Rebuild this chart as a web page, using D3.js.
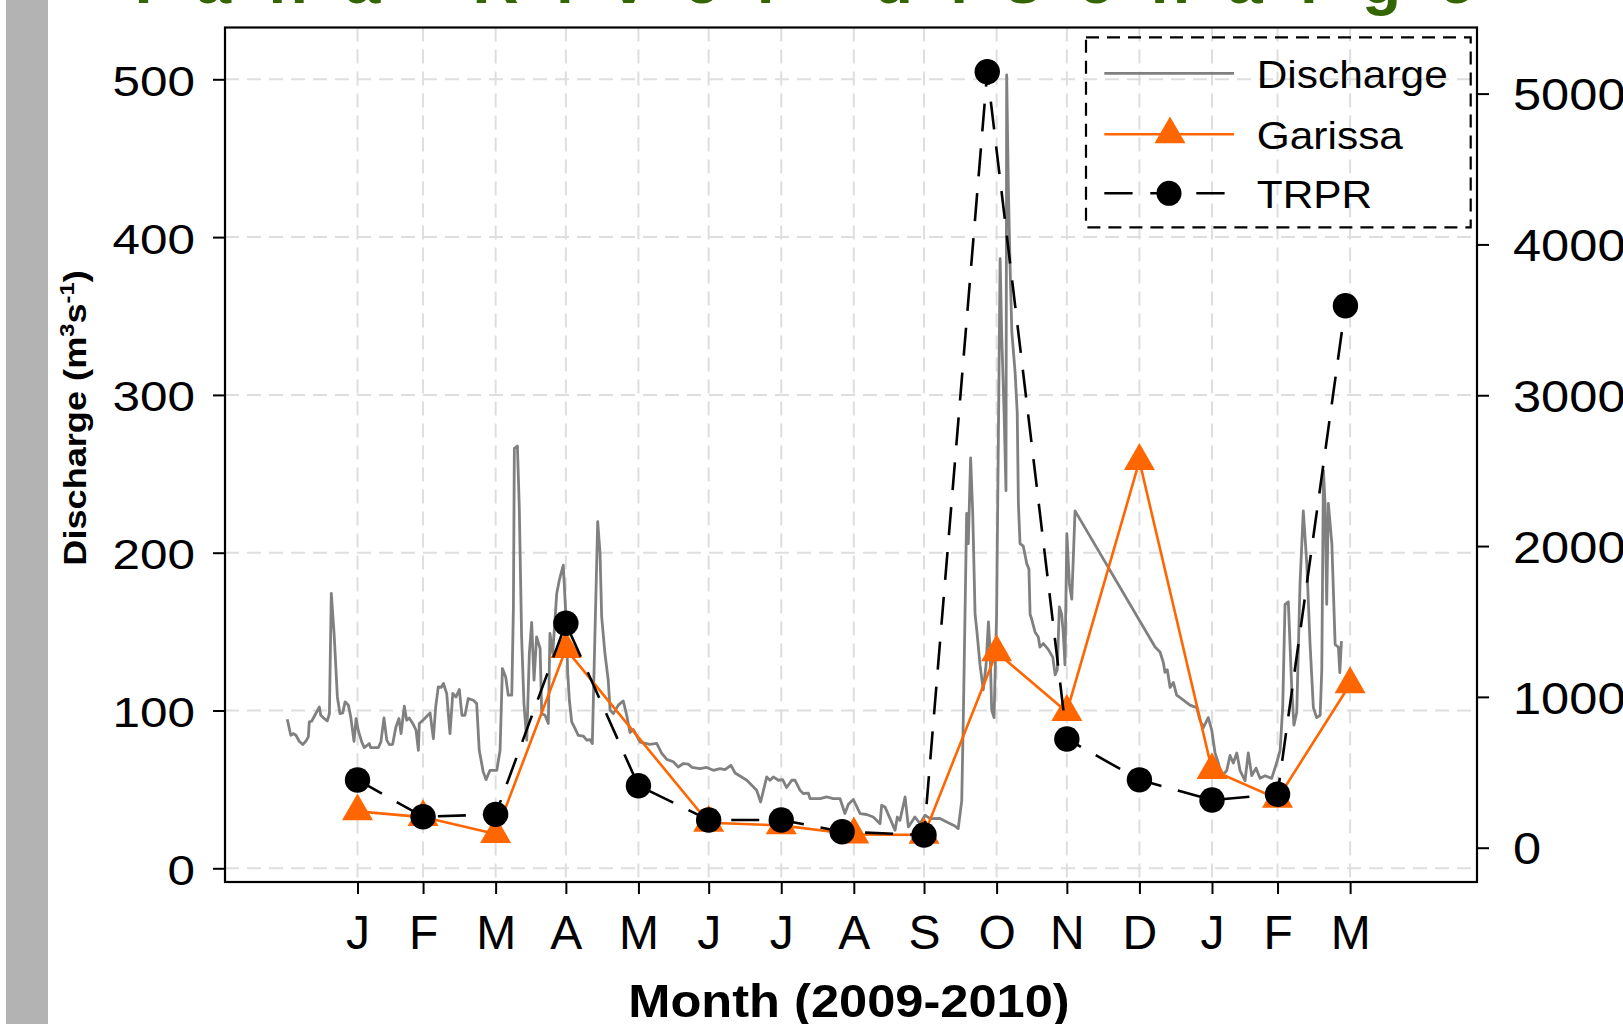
<!DOCTYPE html>
<html>
<head>
<meta charset="utf-8">
<script src="https://cdn.jsdelivr.net/npm/d3@7"></script>
<style>
  html, body { margin: 0; padding: 0; background: #ffffff; }
  svg { display: block; }
  text { font-family: "Liberation Sans", Arial, Helvetica, sans-serif; fill: #000; }
</style>
</head>
<body>
<svg id="chart" width="1623" height="1024"></svg>
<script>
// ---- Data -------------------------------------------------------------

// Daily river discharge (m3/s); day = days since 1 Jan 2009
const dischargeDay = [
  0, 1.5, 2.6, 3.7, 5.1, 6.6, 8.0, 9.0, 9.4, 10.4, 11.8, 13.7, 14.3, 16.1, 17.1, 18.0, 18.8, 20.0,
  21.4, 22.5, 23.7, 24.7, 26.1, 27.1, 28.5, 29.4, 30.3, 31.8, 32.9, 34.2, 35.0, 35.6, 38.9, 40.0,
  41.3, 42.5, 43.6, 45.0, 46.4, 47.7, 48.6, 50.0, 51.0, 52.1, 53.6, 55.0, 56.0, 56.4, 58.4, 61.0,
  62.4, 63.4, 64.5, 65.7, 66.7, 68.1, 69.5, 70.7, 72.1, 73.5, 74.6, 75.9, 77.3, 79.5, 80.9, 82.0,
  83.7, 84.9, 86.6, 89.5, 90.9, 91.9, 93.3, 94.4, 95.9, 96.6, 97.0, 98.3, 99.1, 100.1, 101.1, 102.3,
  103.4, 104.4, 105.4, 106.5, 108.0, 108.7, 110.1, 111.5, 112.2, 113.4, 115.1, 116.2, 117.9, 119.1,
  119.8, 120.5, 121.5, 122.9, 124.3, 126.5, 127.9, 129.3, 130.3, 131.5, 132.6, 133.6, 134.3, 135.7,
  137.1, 137.9, 139.3, 141.4, 143.5, 145.0, 146.4, 147.8, 150.7, 154.9, 157.8, 159.9, 162.1, 164.9,
  167.0, 169.2, 171.3, 172.8, 176.3, 179.2, 182.0, 184.9, 187.0, 189.5, 191.3, 196.3, 200.5, 202.2,
  204.8, 206.2, 207.6, 209.8, 211.6, 213.3, 215.5, 216.9, 219.0, 220.4, 222.6, 223.3, 227.6, 230.4,
  233.2, 236.1, 238.2, 239.7, 241.8, 244.7, 247.5, 250.3, 253.2, 253.9, 255.3, 257.5, 259.6, 260.6,
  261.7, 263.9, 265.3, 268.1, 270.3, 272.4, 274.6, 278.8, 281.7, 285.2, 286.6, 288.1, 288.8, 290.2,
  290.9, 291.9, 292.8, 293.8, 294.5, 295.9, 297.3, 298.5, 299.5, 300.2, 300.9, 301.9, 303.0, 304.5,
  305.2, 306.2, 307.0, 307.3, 308.0, 308.7, 309.5, 310.9, 311.8, 312.3, 313.0, 314.4, 315.9, 316.8,
  317.3, 318.0, 319.4, 320.8, 321.5, 323.0, 325.1, 327.0, 328.0, 328.9, 329.8, 330.8, 331.5, 332.2,
  333.0, 334.1, 335.1, 336.5, 370.7, 372.8, 374.2, 374.9, 375.9, 377.1, 378.5, 379.9, 382.8, 385.6,
  388.5, 389.9, 391.3, 393.4, 394.9, 396.3, 397.7, 399.2, 401.3, 402.7, 404.1, 405.6, 407.0, 409.1,
  410.5, 412.0, 413.8, 415.5, 417.7, 420.5, 422.6, 424.1, 425.2, 426.2, 427.6, 429.1, 430.0, 431.2,
  432.6, 434.0, 435.5, 436.9, 438.3, 439.7, 441.2, 441.9, 442.6, 443.3, 444.0, 444.7, 446.2, 447.6,
  449.0, 449.6, 450.3
];
const dischargeValue = [
  94.5, 84.3, 85.4, 84.3, 80.5, 78.4, 80.7, 83.3, 92.8, 93.2, 97, 102.3, 97, 94.5, 93.4, 98, 174.2, 148.8,
  108.6, 98, 98.5, 105.5, 103.4, 96, 80.5, 94.9, 87.5, 80.1, 76.5, 78, 79.1, 76.5, 76.5, 80.1,
  95.3, 81.2, 78.4, 78.6, 89.6, 94.9, 85.4, 102.7, 93.8, 95.3, 91.8, 87.5, 74.8, 91.8, 94.5, 98.5,
  82.2, 102.3, 115, 114.6, 117.1, 110.8, 85.4, 110.8, 108.6, 113.3, 97, 97, 107.6, 106.5, 104.4, 74.8,
  61.1, 56.2, 62.1, 62.1, 74.8, 126.6, 121.3, 109.7, 109.7, 165.7, 266.1, 267.6, 229.1, 146.7, 104.4, 81.2,
  136.1, 155.8, 119.2, 146.7, 139.3, 98, 97, 91.8, 148.8, 136.1, 174.2, 182.6, 192.1, 157.3,
  123.5, 106.5, 92.8, 88.6, 84.3, 83.7, 81.2, 81.6, 79.1, 153, 219.6, 199.6, 159.4, 136.1,
  119.2, 100.2, 98, 103.4, 106.1, 97, 86, 88, 80, 78.6, 79.1, 73, 69, 67.5,
  64.2, 66.4, 66, 64, 63.2, 63.9, 62.1, 63.2, 62.6, 65.3, 60.4, 55.8, 49.5, 42,
  57.9, 55.8, 57.9, 55.8, 56.2, 51.2, 55.8, 55.8, 49.5, 47.4, 47.7, 44.2, 44.2, 45.2,
  44.2, 44.2, 34.7, 40.6, 43.6, 34.7, 34.1, 32.5, 28.3, 40, 38.9, 31.5, 24.1, 32.5,
  30.4, 45.2, 26.2, 32.5, 28.3, 33.6, 31.5, 31.6, 29.4, 26.8, 25.2, 42.7, 97.1, 224.9,
  205.7, 260, 224.9, 161, 151.4, 129, 113.1, 129, 156.2, 138.6, 100.3, 95.5, 161, 386.3,
  336.7, 288.8, 239.3, 502.8, 432.5, 384.6, 339.9, 314.3, 288.8, 231.3, 205.7, 204.1, 192.9, 189.7,
  161, 157.8, 149.8, 146.6, 140.2, 142.4, 138.6, 133.8, 122.6, 125.8, 165.7, 161, 148.2, 129,
  212.1, 180.2, 170.6, 226.5, 140.2, 137.1, 130.6, 124.2, 125.8, 114.6, 117.8, 109.8, 106.6, 103.4,
  101.8, 93.8, 89.1, 95.5, 87.5, 73.1, 66.7, 58.7, 61.9, 71.5, 66.7, 73.1, 61.9, 55.5,
  73.1, 58.7, 63.5, 57, 58.7, 57, 66.7, 74.7, 101.8, 167.3, 168.9, 113.1, 90.7, 98.7,
  180.2, 226.5, 192.9, 141.8, 101.8, 95.5, 97, 125.8, 252, 231.3, 167.3, 231.3, 205.7, 141.8,
  140.2, 124, 144
];

// Monthly samples (right-hand axis)
const garissaDates = [
  "2009-01-31", "2009-02-28", "2009-03-31", "2009-04-30", "2009-06-30", "2009-07-31", "2009-08-31",
  "2009-09-30", "2009-10-31", "2009-11-30", "2009-12-31", "2010-01-31", "2010-02-28", "2010-03-31"
];
const garissaValues = [241, 203, 91, 1317, 165, 148, 88, 85, 1296, 900, 2564, 515, 324, 1084];

const trprDates = [
  "2009-01-31", "2009-02-28", "2009-03-31", "2009-04-30", "2009-05-31", "2009-06-30", "2009-07-31",
  "2009-08-26", "2009-09-30", "2009-10-27", "2009-11-30", "2009-12-31", "2010-01-31", "2010-02-28",
  "2010-03-29"
];
const trprValues = [449, 205, 221, 1488, 411, 184, 184, 106, 84, 5145, 721, 450, 316, 354, 3593];

// Axis ticks and limits
const monthTicks = [
  "2009-01-31", "2009-02-28", "2009-03-31", "2009-04-30", "2009-05-31", "2009-06-30", "2009-07-31",
  "2009-08-31", "2009-09-30", "2009-10-31", "2009-11-30", "2009-12-31", "2010-01-31", "2010-02-28",
  "2010-03-31"
];
const monthLabels = ["J", "F", "M", "A", "M", "J", "J", "A", "S", "O", "N", "D", "J", "F", "M"];
const xLimits = ["2008-12-05T09:36:00Z", "2010-05-24T04:48:00Z"];
const leftTicks = [0, 100, 200, 300, 400, 500];
const rightTicks = [0, 1000, 2000, 3000, 4000, 5000];
const seriesNames = ["Discharge", "Garissa", "TRPR"];
const headline = "Tana River discharge";

// ---- Drawing ----------------------------------------------------------

const svg = d3.select("#chart");
const box = { left: 225, right: 1477, top: 27.5, bottom: 882 };
const GREY = "#808080", ORANGE = "#ff6600", GRID = "#dedede";

const origin = Date.UTC(2009, 0, 1);
const dayToDate = d => new Date(origin + d * 864e5);
const parseDay = d3.utcParse("%Y-%m-%d");

const x = d3.scaleUtc().domain(xLimits.map(d3.isoParse)).range([box.left, box.right]);
const yL = d3.scaleLinear().domain([0, 500]).range([868.3, 79.3]);
const yR = d3.scaleLinear().domain([0, 5000]).range([847.7, 93.6]);

// Page furniture: side bar and the poster headline running off the top edge
svg.append("rect").attr("x", 6).attr("y", 0).attr("width", 42).attr("height", 1024).attr("fill", "#b3b3b3");
svg.append("text")
  .attr("x", 124).attr("y", 3)
  .attr("textLength", 1350).attr("lengthAdjust", "spacing")
  .attr("font-size", 64).attr("font-weight", "bold")
  .style("fill", "#336600")
  .text(headline);

// Grid
const grid = svg.append("g").attr("stroke", GRID).attr("stroke-width", 2).attr("stroke-dasharray", "14,8");
grid.selectAll("line.v").data(monthTicks).join("line")
  .attr("x1", d => x(parseDay(d))).attr("x2", d => x(parseDay(d)))
  .attr("y1", box.top).attr("y2", box.bottom);
grid.selectAll("line.h").data(leftTicks).join("line")
  .attr("x1", box.left).attr("x2", box.right)
  .attr("y1", d => yL(d)).attr("y2", d => yL(d));

// Discharge
const discharge = dischargeDay.map((d, i) => [dayToDate(d), dischargeValue[i]]);
svg.append("path").datum(discharge)
  .attr("fill", "none").attr("stroke", GREY).attr("stroke-width", 2.8).attr("stroke-linejoin", "round")
  .attr("d", d3.line().x(d => x(d[0])).y(d => yL(d[1])));

// Garissa
const garissa = garissaDates.map((d, i) => [parseDay(d), garissaValues[i]]);
svg.append("path").datum(garissa)
  .attr("fill", "none").attr("stroke", ORANGE).attr("stroke-width", 2.6)
  .attr("d", d3.line().x(d => x(d[0])).y(d => yR(d[1])));
const tri = d3.symbol().type(d3.symbolTriangle).size(416);
svg.append("g").selectAll("path").data(garissa).join("path")
  .attr("transform", d => `translate(${x(d[0])},${yR(d[1])})`)
  .attr("d", tri).attr("fill", ORANGE);

// TRPR
const trpr = trprDates.map((d, i) => [parseDay(d), trprValues[i]]);
svg.append("path").datum(trpr)
  .attr("fill", "none").attr("stroke", "#000").attr("stroke-width", 2.6).attr("stroke-dasharray", "28,17")
  .attr("d", d3.line().x(d => x(d[0])).y(d => yR(d[1])));
svg.append("g").selectAll("circle").data(trpr).join("circle")
  .attr("cx", d => x(d[0])).attr("cy", d => yR(d[1])).attr("r", 12.7).attr("fill", "#000");

// Axes
const axisStyle = g => {
  g.select(".domain").remove();
  g.selectAll(".tick line").attr("stroke", "#000").attr("stroke-width", 2);
  g.selectAll("text").attr("font-family", null).style("font-family", "'Liberation Sans', Arial, sans-serif");
};

const gLeft = svg.append("g").attr("transform", `translate(${box.left},0)`)
  .call(d3.axisLeft(yL).tickValues(leftTicks).tickSize(12).tickSizeOuter(0).tickFormat(d3.format("d")));
axisStyle(gLeft);
gLeft.selectAll("text").attr("font-size", 43).attr("transform", "scale(1.15,1)")
  .attr("x", -30 / 1.15).attr("dy", "0.37em");

const gRight = svg.append("g").attr("transform", `translate(${box.right},0)`)
  .call(d3.axisRight(yR).tickValues(rightTicks).tickSize(12).tickSizeOuter(0).tickFormat(d3.format("d")));
axisStyle(gRight);
gRight.selectAll("text").attr("font-size", 44).attr("transform", "scale(1.15,1)")
  .attr("x", 36 / 1.15).attr("dy", "0.37em");

const gBottom = svg.append("g").attr("transform", `translate(0,${box.bottom})`)
  .call(d3.axisBottom(x).tickValues(monthTicks.map(parseDay)).tickSize(12).tickSizeOuter(0)
    .tickFormat((d, i) => monthLabels[i]));
axisStyle(gBottom);
gBottom.selectAll("text").attr("font-size", 48).attr("y", 66.7).attr("dy", 0);

// Plot frame
svg.append("rect")
  .attr("x", box.left).attr("y", box.top)
  .attr("width", box.right - box.left).attr("height", box.bottom - box.top)
  .attr("fill", "none").attr("stroke", "#000").attr("stroke-width", 2.2);

// Axis titles
svg.append("text")
  .attr("transform", "translate(849,1016.5) scale(1.1,1)")
  .attr("text-anchor", "middle").attr("font-size", 46).attr("font-weight", "bold")
  .text("Month (2009-2010)");

const yTitle = svg.append("text")
  .attr("transform", "translate(86,418) rotate(-90) scale(1.13,1)")
  .attr("text-anchor", "middle").attr("font-size", 32).attr("font-weight", "bold");
yTitle.append("tspan").text("Discharge (m");
yTitle.append("tspan").attr("font-size", 21).attr("dy", -12).text("3");
yTitle.append("tspan").attr("dy", 12).text("s");
yTitle.append("tspan").attr("font-size", 21).attr("dy", -12).text("-1");
yTitle.append("tspan").attr("dy", 12).text(")");

// Legend
const legend = svg.append("g");
legend.append("rect")
  .attr("x", 1086).attr("y", 37.3).attr("width", 384.7).attr("height", 190)
  .attr("fill", "none").attr("stroke", "#000").attr("stroke-width", 2.2).attr("stroke-dasharray", "13,8");
const rowY = [73.3, 134.3, 193.3];
legend.append("line").attr("x1", 1104.3).attr("x2", 1234).attr("y1", rowY[0]).attr("y2", rowY[0])
  .attr("stroke", GREY).attr("stroke-width", 2.8);
legend.append("line").attr("x1", 1104.3).attr("x2", 1234).attr("y1", rowY[1]).attr("y2", rowY[1])
  .attr("stroke", ORANGE).attr("stroke-width", 2.6);
legend.append("path").attr("transform", `translate(1170,${rowY[1]})`).attr("d", tri).attr("fill", ORANGE);
legend.append("line").attr("x1", 1104.3).attr("x2", 1234).attr("y1", rowY[2]).attr("y2", rowY[2])
  .attr("stroke", "#000").attr("stroke-width", 2.6).attr("stroke-dasharray", "28.3,17.7");
legend.append("circle").attr("cx", 1169).attr("cy", rowY[2]).attr("r", 12.5).attr("fill", "#000");
legend.selectAll("text.lab").data(seriesNames).join("text")
  .attr("transform", (d, i) => `translate(1256.7,${rowY[i] + 15}) scale(1.075,1)`)
  .attr("font-size", 39.5).text(d => d);
</script>
</body>
</html>
